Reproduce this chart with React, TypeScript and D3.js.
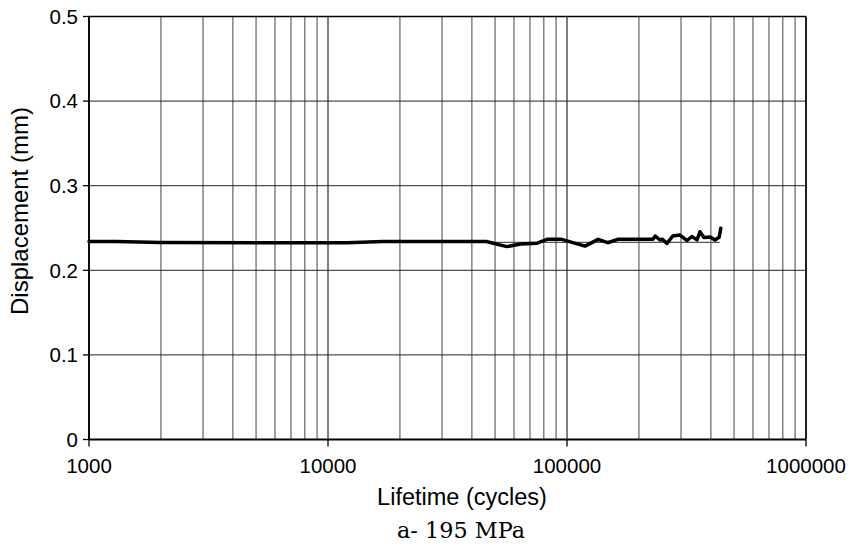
import * as d3 from "d3";

// lifetime (cycles) vs displacement (mm)
const cycles = [
  1000, 1300, 2000, 5000, 12000, 17000, 46000, 56000, 64000, 75000, 82500,
  95000, 119000, 135000, 148000, 163000, 229000, 234000, 245000, 250000,
  262000, 277000, 297000, 318000, 333000, 350000, 360000, 374000, 398000,
  416000, 433000, 440000,
];
const displacement = [
  0.234, 0.234, 0.233, 0.2325, 0.2325, 0.234, 0.234, 0.228, 0.231, 0.232,
  0.2366, 0.2366, 0.2286, 0.2366, 0.2326, 0.2366, 0.2366, 0.2405, 0.2358,
  0.2368, 0.2318, 0.2405, 0.2417, 0.2352, 0.24, 0.236, 0.2456, 0.2388, 0.2393,
  0.2358, 0.239, 0.2496,
];

// horizontal fit line
const fitCycles = [1000, 435000];
const fitDisplacement = [0.233, 0.233];

const xTickValues = [1000, 10000, 100000, 1000000];
const yTickValues = [0, 0.1, 0.2, 0.3, 0.4, 0.5];

const width = 854;
const height = 549;
const left = 89;
const right = 806;
const top = 16.5;
const bottom = 439.5;

export default function App() {
  const x = d3.scaleLog().domain([1000, 1000000]).range([left, right]);
  const y = d3.scaleLinear().domain([0, 0.5]).range([bottom, top]);

  const gridX = x.ticks();
  const isMajor = (v: number) => xTickValues.includes(v);

  const line = d3
    .line<number>()
    .x((d, i) => x(cycles[i]))
    .y((d) => y(d));

  const fitLine = d3
    .line<number>()
    .x((d, i) => x(fitCycles[i]))
    .y((d) => y(d));

  return (
    <svg
      width={width}
      height={height}
      style={{ position: "absolute", left: 0, top: 0, background: "#fff" }}
      fontFamily="'Liberation Sans', Arial, sans-serif"
    >
      <rect x={0} y={0} width={width} height={height} fill="#fff" />

      {/* vertical grid */}
      {gridX.map((v) => (
        <line
          key={"gx" + v}
          x1={x(v)}
          x2={x(v)}
          y1={top}
          y2={bottom}
          stroke={isMajor(v) ? "#000" : "#444"}
          strokeWidth={1}
        />
      ))}
      {/* horizontal grid */}
      {yTickValues.slice(1, -1).map((v) => (
        <line
          key={"gy" + v}
          x1={left}
          x2={right}
          y1={y(v)}
          y2={y(v)}
          stroke="#222"
          strokeWidth={1}
        />
      ))}

      {/* frame */}
      <line x1={left} x2={right} y1={top} y2={top} stroke="#000" strokeWidth={1.5} />
      <line x1={right} x2={right} y1={top} y2={bottom} stroke="#000" strokeWidth={1.5} />
      <line x1={left} x2={left} y1={top} y2={bottom} stroke="#000" strokeWidth={1.8} />
      <line x1={left} x2={right} y1={bottom} y2={bottom} stroke="#000" strokeWidth={2} />

      {/* y ticks */}
      {yTickValues.map((v) => (
        <g key={"ty" + v}>
          <line x1={left - 6} x2={left} y1={y(v)} y2={y(v)} stroke="#000" strokeWidth={1.3} />
          <text x={78} y={y(v)} dy="0.36em" textAnchor="end" fontSize={20.5} fill="#000">
            {v === 0 ? "0" : v.toFixed(1)}
          </text>
        </g>
      ))}

      {/* x ticks */}
      {xTickValues.map((v) => (
        <g key={"tx" + v}>
          <line x1={x(v)} x2={x(v)} y1={bottom} y2={bottom + 7} stroke="#000" strokeWidth={1.3} />
          <text x={x(v)} y={473} textAnchor="middle" fontSize={20.5} fill="#000">
            {v}
          </text>
        </g>
      ))}

      {/* series */}
      <path
        d={fitLine(fitDisplacement) || ""}
        fill="none"
        stroke="#555"
        strokeWidth={1.4}
      />
      <path
        d={line(displacement) || ""}
        fill="none"
        stroke="#000"
        strokeWidth={3.5}
        strokeLinejoin="round"
        strokeLinecap="round"
      />

      {/* axis titles */}
      <text x={462} y={505} textAnchor="middle" fontSize={23.5} fill="#000">
        Lifetime (cycles)
      </text>
      <text
        transform="translate(28,211) rotate(-90)"
        textAnchor="middle"
        fontSize={24}
        fill="#000"
      >
        Displacement (mm)
      </text>

      {/* caption */}
      <text
        x={397}
        y={538}
        fontSize={22}
        fontFamily="'DejaVu Serif', 'Liberation Serif', serif"
        textLength={128}
        lengthAdjust="spacingAndGlyphs"
        fill="#000"
      >
        a- 195 MPa
      </text>
    </svg>
  );
}
